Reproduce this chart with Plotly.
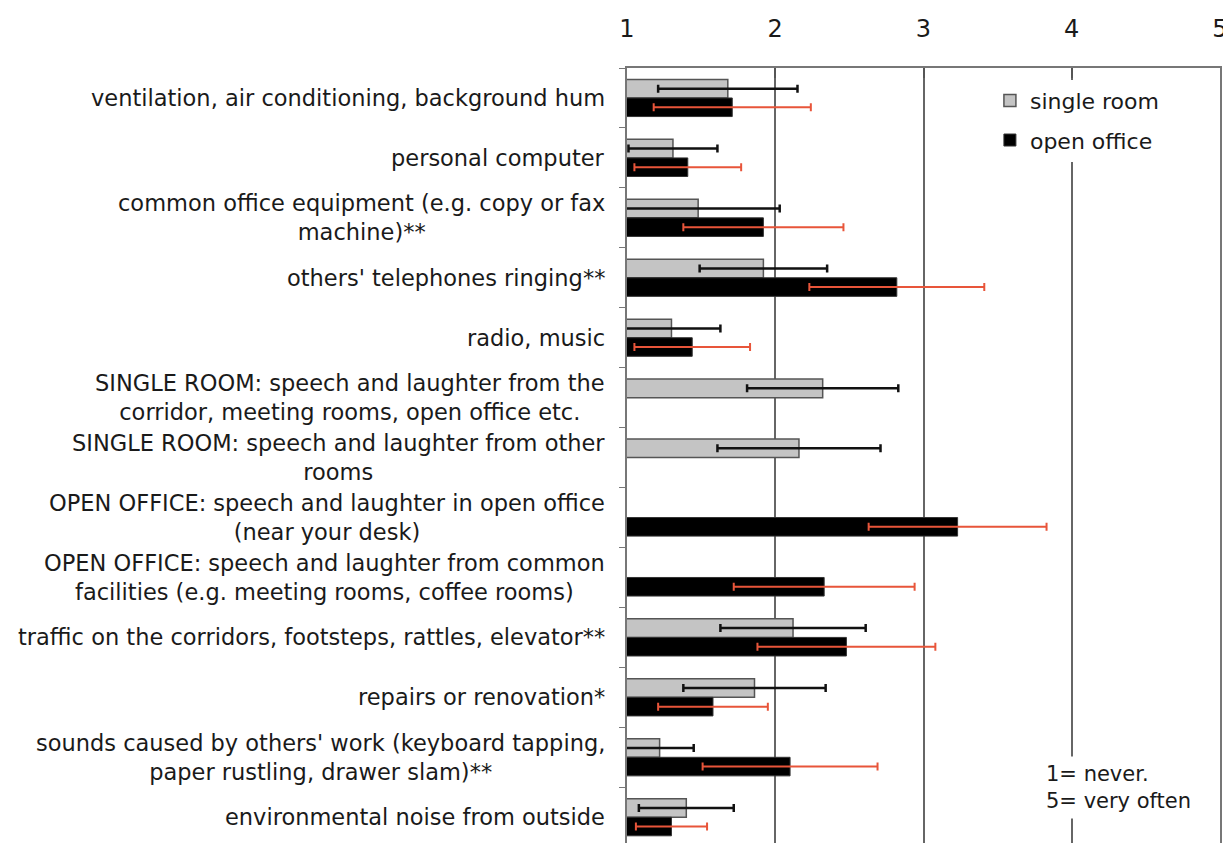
import plotly.graph_objects as go

labels = [
    "ventilation, air conditioning, background hum",
    "personal computer",
    "common office equipment (e.g. copy or fax<br>machine)**",
    "others' telephones ringing**",
    "radio, music",
    "SINGLE ROOM: speech and laughter from the<br>corridor, meeting rooms, open office etc.",
    "SINGLE ROOM: speech and laughter from other<br>rooms",
    "OPEN OFFICE: speech and laughter in open office<br>(near your desk)",
    "OPEN OFFICE: speech and laughter from common<br>facilities (e.g. meeting rooms, coffee rooms)",
    "traffic on the corridors, footsteps, rattles, elevator**",
    "repairs or renovation*",
    "sounds caused by others' work (keyboard tapping,<br>paper rustling, drawer slam)**",
    "environmental noise from outside",
]

single_mean = [1.68, 1.31, 1.48, 1.92, 1.30, 2.32, 2.16, None, None, 2.12, 1.86, 1.22, 1.40]
single_sd = [0.47, 0.30, 0.55, 0.43, 0.33, 0.51, 0.55, None, None, 0.49, 0.48, 0.23, 0.32]
open_mean = [1.71, 1.41, 1.92, 2.82, 1.44, None, None, 3.23, 2.33, 2.48, 1.58, 2.10, 1.30]
open_sd = [0.53, 0.36, 0.54, 0.59, 0.39, None, None, 0.60, 0.61, 0.60, 0.37, 0.59, 0.24]

x_ticks = [1, 2, 3, 4, 5]

font = "DejaVu Sans, Liberation Sans, Arial, sans-serif"
ink = "#1a1a1a"

fig = go.Figure()

fig.add_trace(go.Bar(
    y=labels, x=single_mean, orientation="h", name="single room",
    legendgroup="a",
    marker=dict(color="#c4c4c4", line=dict(color="#555555", width=1.5)),
    error_x=dict(type="data", array=single_sd, color="#111111", thickness=2.5, width=4),
))
fig.add_trace(go.Bar(
    y=labels, x=open_mean, orientation="h", name="open office",
    legendgroup="b",
    marker=dict(color="#000000", line=dict(color="#333333", width=1)),
    error_x=dict(type="data", array=open_sd, color="#e8553a", thickness=2, width=4),
))

# category labels as centred multi-line text
for lab in labels:
    fig.add_annotation(
        x=-0.033, xref="paper", y=lab, yref="y",
        text=lab, showarrow=False, xanchor="right", align="center",
        font=dict(family=font, size=22.5, color=ink),
    )

fig.add_annotation(
    x=0.696, xref="paper", y=0.071, yref="paper",
    text="1= never.<br>5= very often", showarrow=False,
    xanchor="left", yanchor="middle", align="left",
    bgcolor="white", borderpad=5,
    font=dict(family=font, size=21, color=ink),
)

# page body adds an 8px offset, so the figure is sized to fit the window
fig.update_layout(
    width=1223, height=835,
    margin=dict(l=619, r=11, t=60, b=0),
    plot_bgcolor="white", paper_bgcolor="white",
    barmode="group", bargap=0.38, bargroupgap=0,
    font=dict(family=font, size=22, color=ink),
    legend=dict(
        x=0.612, y=0.985, xanchor="left", yanchor="top",
        bgcolor="white", traceorder="grouped", tracegroupgap=8,
        font=dict(family=font, size=22, color=ink),
    ),
)

fig.update_xaxes(
    side="top", range=[1, 5], tickvals=x_ticks, automargin=False,
    showgrid=True, gridcolor="#666666", gridwidth=2,
    showline=True, linecolor="#777777", linewidth=1.5,
    ticks="inside", ticklen=10, tickcolor="#555555", tickwidth=1.5,
    ticklabelstandoff=20,
    tickfont=dict(family=font, size=24, color=ink),
    zeroline=False,
)
fig.update_yaxes(
    range=[12.43, -0.5], showticklabels=False, automargin=False,
    showline=True, linecolor="#777777", linewidth=1.5, mirror=True,
    ticks="outside", tickson="boundaries", ticklen=6, tickcolor="#777777",
    showgrid=False,
)

fig.write_html("out.html")
